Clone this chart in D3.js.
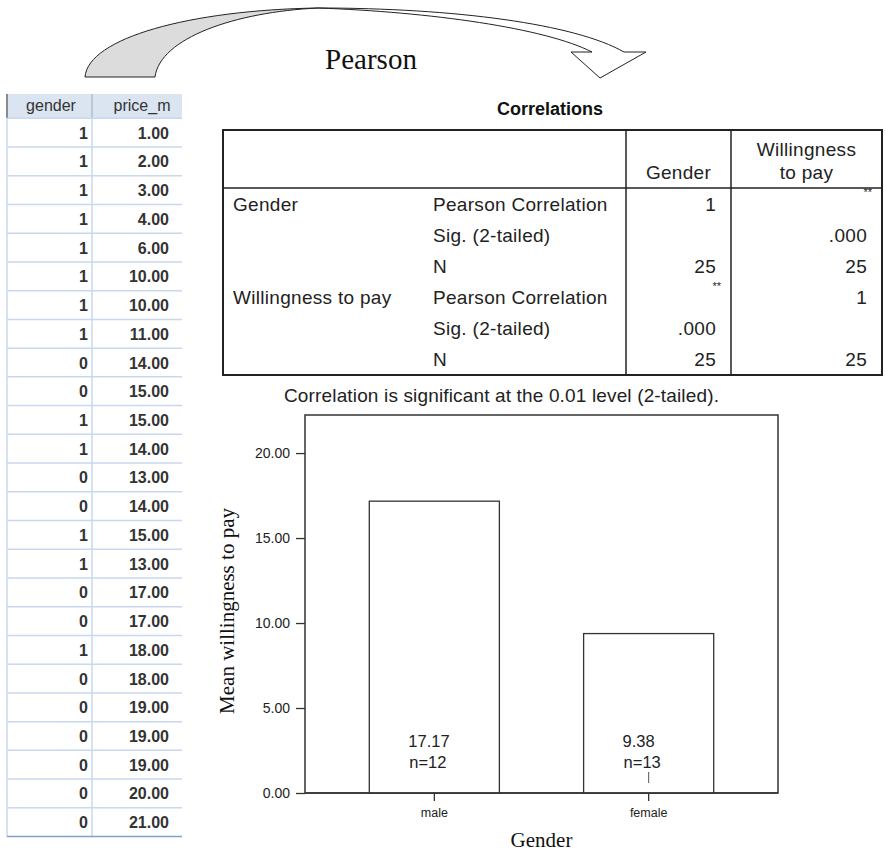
<!DOCTYPE html>
<html>
<head>
<meta charset="utf-8">
<script src="https://cdn.jsdelivr.net/npm/d3@7/dist/d3.min.js"></script>
<style>
  html, body { margin: 0; padding: 0; background: #fff; }
  svg { display: block; }
  text { font-family: "Liberation Sans", Arial, sans-serif; fill: #222; }
  .serif { font-family: "Liberation Serif", "Times New Roman", serif; }
</style>
</head>
<body>
<script>
// ---- raw data sheet: gender code (1 = female, 0 = male) and price_m ----
const sheetColumns = ["gender", "price_m"];
const genderCodes = [1, 1, 1, 1, 1, 1, 1, 1, 0, 0, 1, 1, 0, 0, 1, 1, 0, 0, 1, 0, 0, 0, 0, 0, 0];
const prices = [1, 2, 3, 4, 6, 10, 10, 11, 14, 15, 15, 14, 13, 14, 15, 13, 17, 17, 18, 18, 19, 19, 19, 20, 21];

// ---- correlations output table ----
const corrTitle = "Correlations";
const corrHeaders = ["Gender", ["Willingness", "to pay"]];
const corrVars = ["Gender", "", "", "Willingness to pay", "", ""];
const corrStats = ["Pearson Correlation", "Sig. (2-tailed)", "N", "Pearson Correlation", "Sig. (2-tailed)", "N"];
const corrColGender = ["1", "", "25", "**", ".000", "25"];
const corrColWtp = ["**", ".000", "25", "1", "", "25"];
const corrNote = "Correlation is significant at the 0.01 level (2-tailed).";

// ---- mean willingness to pay by gender ----
const categories = ["male", "female"];
const means = [17.17, 9.38];
const counts = [12, 13];
const yTicks = [0, 5, 10, 15, 20];
const yMax = 22.24;
const xTitle = "Gender";
const yTitle = "Mean willingness to pay";
const arrowLabel = "Pearson";

const W = 886, H = 852;
const svg = d3.select("body").append("svg").attr("width", W).attr("height", H);
svg.append("rect").attr("width", W).attr("height", H).attr("fill", "#fff");

// ===== curved arrow from the data sheet to the output =====
const arrow = svg.append("g").attr("stroke", "#222").attr("stroke-width", 1).attr("stroke-linejoin", "miter");
arrow.append("path")
  .attr("fill", "#dcdcdc")
  .attr("d", "M85,77 C88,38 190,10 318,8 C235,12 160,38 155,77 Z");
arrow.append("path")
  .attr("fill", "#fff")
  .attr("d", "M318,8 C455,8 575,24 624,52 L646,52 L600,78 L571,52 L592,52 C545,28 430,12 318,8 Z");
svg.append("text").attr("class", "serif")
  .attr("x", 371).attr("y", 69).attr("text-anchor", "middle")
  .attr("font-size", 29).style("fill", "#111").text(arrowLabel);

// ===== spreadsheet view =====
const sheet = svg.append("g");
const sx0 = 7, sx1 = 182, sDiv = 92, headTop = 94, headBot = 118.3, rowH = 28.73;
sheet.append("rect").attr("x", sx0).attr("y", headTop).attr("width", sx1 - sx0).attr("height", headBot - headTop)
  .attr("fill", "#dbe5f1");
sheet.append("line").attr("x1", sx0).attr("x2", sx0).attr("y1", headTop).attr("y2", headBot)
  .attr("stroke", "#8a8a8a").attr("stroke-width", 2);
sheet.append("line").attr("x1", sDiv).attr("x2", sDiv).attr("y1", headTop).attr("y2", headBot)
  .attr("stroke", "#b9c7d8").attr("stroke-width", 2);
const colCenters = [51, 142];
sheetColumns.forEach((c, i) => {
  sheet.append("text").attr("x", colCenters[i]).attr("y", (headTop + headBot) / 2 + 5)
    .attr("text-anchor", "middle").attr("font-size", 16).style("fill", "#333").text(c);
});
const nRows = prices.length;
const rowY = i => headBot + i * rowH;
sheet.append("line").attr("x1", sx0).attr("x2", sx0).attr("y1", headBot).attr("y2", rowY(nRows))
  .attr("stroke", "#c8d8ee").attr("stroke-width", 1.5);
sheet.append("line").attr("x1", sDiv).attr("x2", sDiv).attr("y1", headBot).attr("y2", rowY(nRows))
  .attr("stroke", "#c8d8ee").attr("stroke-width", 1.5);
d3.range(nRows + 1).forEach(i => {
  sheet.append("line").attr("x1", sx0).attr("x2", sx1).attr("y1", rowY(i)).attr("y2", rowY(i))
    .attr("stroke", i === nRows ? "#7f9fcf" : "#c8d8ee").attr("stroke-width", 1.5);
});
const fmt2 = d3.format(".2f");
sheet.selectAll("text.g").data(genderCodes).join("text").attr("class", "g")
  .attr("x", 88).attr("y", (d, i) => rowY(i) + rowH / 2 + 6)
  .attr("text-anchor", "end").attr("font-size", 16).attr("font-weight", "bold").style("fill", "#333")
  .text(d => d);
sheet.selectAll("text.p").data(prices).join("text").attr("class", "p")
  .attr("x", 169).attr("y", (d, i) => rowY(i) + rowH / 2 + 6)
  .attr("text-anchor", "end").attr("font-size", 16).attr("font-weight", "bold").style("fill", "#333")
  .text(d => fmt2(d));

// ===== correlations table =====
const tb = svg.append("g").style("letter-spacing", "0.3px");
const tL = 223, tR = 882, tT = 130, tHB = 188, tB = 375, c1 = 626, c2 = 731;
const tRowH = (tB - tHB) / corrStats.length;
svg.append("text").attr("x", 550).attr("y", 115).attr("text-anchor", "middle")
  .attr("font-size", 18).attr("font-weight", "bold").style("fill", "#111").text(corrTitle);
tb.append("rect").attr("x", tL).attr("y", tT).attr("width", tR - tL).attr("height", tB - tT)
  .attr("fill", "none").attr("stroke", "#222").attr("stroke-width", 2);
tb.append("line").attr("x1", tL).attr("x2", tR).attr("y1", tHB).attr("y2", tHB).attr("stroke", "#222").attr("stroke-width", 1.5);
[c1, c2].forEach(x => tb.append("line").attr("x1", x).attr("x2", x).attr("y1", tT).attr("y2", tB)
  .attr("stroke", "#222").attr("stroke-width", 1.5));
const fs = 19;
tb.append("text").attr("x", (c1 + c2) / 2).attr("y", 179).attr("text-anchor", "middle").attr("font-size", fs).text(corrHeaders[0]);
tb.append("text").attr("x", (c2 + tR) / 2).attr("y", 156).attr("text-anchor", "middle").attr("font-size", fs).text(corrHeaders[1][0]);
tb.append("text").attr("x", (c2 + tR) / 2).attr("y", 179).attr("text-anchor", "middle").attr("font-size", fs).text(corrHeaders[1][1]);
const rowMid = i => tHB + (i + 0.5) * tRowH + 7;
corrVars.forEach((v, i) => tb.append("text").attr("x", 233).attr("y", rowMid(i)).attr("font-size", fs).text(v));
corrStats.forEach((v, i) => tb.append("text").attr("x", 433).attr("y", rowMid(i)).attr("font-size", fs).text(v));
function cell(v, i, xr) {
  if (v === "**") {
    tb.append("text").attr("x", xr + 5).attr("y", tHB + i * tRowH + 8).attr("text-anchor", "end")
      .attr("font-size", 11).style("letter-spacing", "0px").style("fill", "#222").text(v);
  } else {
    tb.append("text").attr("x", xr).attr("y", rowMid(i)).attr("text-anchor", "end").attr("font-size", fs).text(v);
  }
}
corrColGender.forEach((v, i) => cell(v, i, 716));
corrColWtp.forEach((v, i) => cell(v, i, 867));
svg.append("text").attr("x", 284).attr("y", 402).attr("font-size", 19)
  .style("letter-spacing", "0.15px").text(corrNote);

// ===== bar chart of mean willingness to pay =====
const pL = 305, pR = 778, pT = 415, pB = 793;
const x = d3.scaleBand().domain(categories).range([pL, pR]).paddingInner(0.393).paddingOuter(0.3);
const y = d3.scaleLinear().domain([0, yMax]).range([pB, pT]);
const chart = svg.append("g");

chart.append("rect").attr("x", pL).attr("y", pT).attr("width", pR - pL).attr("height", pB - pT)
  .attr("fill", "#fff").attr("stroke", "#333").attr("stroke-width", 1.5);

const bars = categories.map((c, i) => ({ c, m: means[i], n: counts[i] }));
chart.selectAll("rect.bar").data(bars).join("rect").attr("class", "bar")
  .attr("x", d => x(d.c)).attr("width", x.bandwidth())
  .attr("y", d => y(d.m)).attr("height", d => y(0) - y(d.m))
  .attr("fill", "#fff").attr("stroke", "#333").attr("stroke-width", 1.3);

// baseline
chart.append("line").attr("x1", pL).attr("x2", pR).attr("y1", y(0)).attr("y2", y(0))
  .attr("stroke", "#333").attr("stroke-width", 1.5);

const yAxis = chart.append("g").attr("transform", `translate(${pL},0)`)
  .call(d3.axisLeft(y).tickValues(yTicks).tickFormat(fmt2).tickSize(9).tickPadding(6));
yAxis.select(".domain").remove();
yAxis.selectAll("line").attr("stroke", "#333").attr("stroke-width", 1.3);
yAxis.selectAll("text").attr("font-size", 14).style("fill", "#222")
  .style("font-family", "'Liberation Sans', Arial, sans-serif");

const xAxis = chart.append("g").attr("transform", `translate(0,${pB})`)
  .call(d3.axisBottom(x).tickSize(8).tickPadding(7));
xAxis.select(".domain").remove();
xAxis.selectAll("line").attr("stroke", "#333").attr("stroke-width", 1.3);
xAxis.selectAll("text").attr("font-size", 12.5).style("fill", "#222")
  .style("font-family", "'Liberation Sans', Arial, sans-serif");

// value and count labels inside each bar
const lab = chart.selectAll("g.lab").data(bars).join("g").attr("class", "lab");
lab.append("text").attr("x", d => x(d.c) + 39).attr("y", y(0) - 46)
  .attr("font-size", 16.5).text(d => fmt2(d.m));
lab.append("text").attr("x", d => x(d.c) + 40).attr("y", y(0) - 25)
  .attr("font-size", 16.5).text(d => "n=" + d.n);
// short whisker mark under the female count
chart.append("line")
  .attr("x1", x("female") + x.bandwidth() / 2).attr("x2", x("female") + x.bandwidth() / 2)
  .attr("y1", y(0) - 21).attr("y2", y(0) - 10)
  .attr("stroke", "#555").attr("stroke-width", 1);

// axis titles
svg.append("text").attr("class", "serif").attr("x", (pL + pR) / 2).attr("y", 847)
  .attr("text-anchor", "middle").attr("font-size", 21).style("fill", "#111").text(xTitle);
svg.append("text").attr("class", "serif")
  .attr("transform", `translate(234,${(pT + pB) / 2 + 7}) rotate(-90)`)
  .attr("text-anchor", "middle").attr("font-size", 21).style("fill", "#111").text(yTitle);
</script>
</body>
</html>
